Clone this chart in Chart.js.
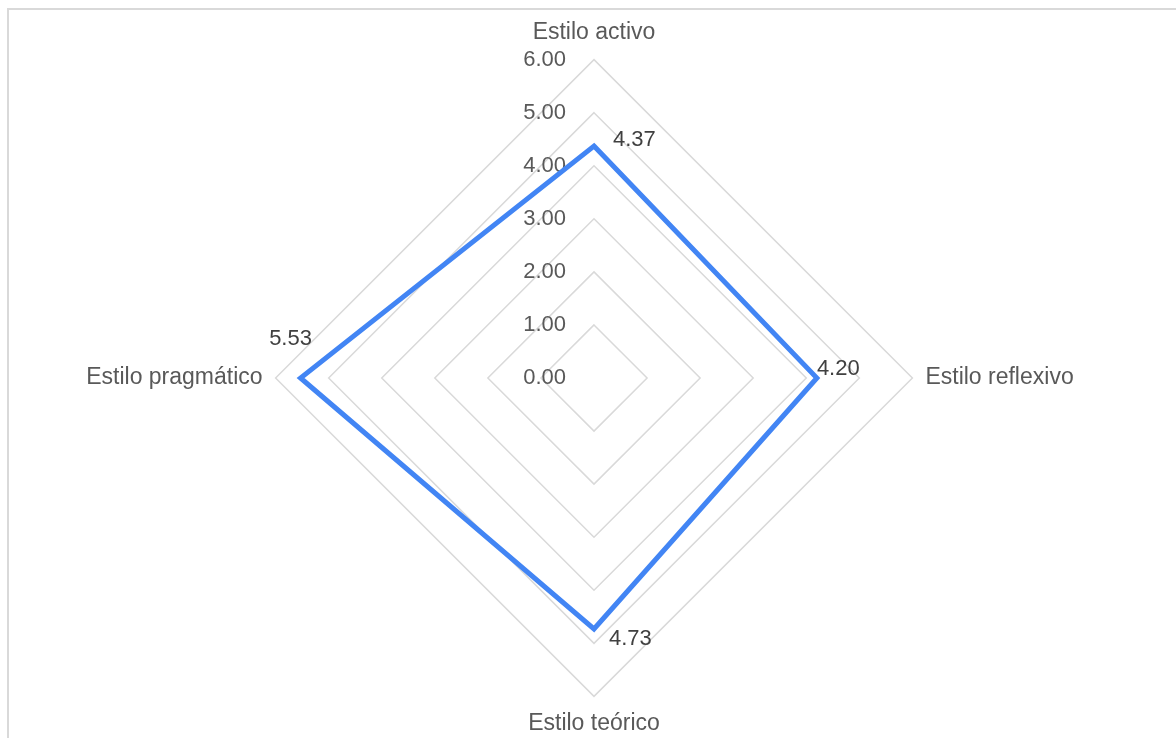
<!DOCTYPE html>
<html lang="es">

<head>
    <meta charset="UTF-8">
    <title>Estilos de aprendizaje</title>
    <script src="https://cdn.jsdelivr.net/npm/chart.js"></script>
    <style>
        html, body { margin: 0; padding: 0; background: #fff; }
        #marco {
            position: absolute; left: 7px; top: 8px; right: 0; bottom: -20px;
            border-left: 2px solid #d9d9d9; border-top: 2px solid #d9d9d9;
        }
        #grafico { position: absolute; left: 0; top: 0; }
    </style>
</head>

<body>
    <div id="marco"></div>
    <canvas id="grafico" width="1176" height="738"></canvas>

    <script>
        // Datos del gráfico
        const estilos = ['Estilo activo', 'Estilo reflexivo', 'Estilo teórico', 'Estilo pragmático'];
        const promedios = [4.37, 4.20, 4.73, 5.53];
        const escala = ['0.00', '1.00', '2.00', '3.00', '4.00', '5.00', '6.00'];

        const fuente = '"Liberation Sans", Arial, sans-serif';
        const grisTexto = '#595959';

        // desplazamiento de cada etiqueta de valor respecto a su punto
        const despEtiquetas = [[19, -6], [0, -9], [15, 10], [-10, -39]];
        const alinEtiquetas = ['left', 'left', 'left', 'center'];

        // Etiquetas del eje radial (a la izquierda del eje vertical)
        const etiquetasEje = {
            id: 'etiquetasEje',
            beforeDatasetsDraw(chart) {
                const r = chart.scales.r;
                const ctx = chart.ctx;
                ctx.save();
                ctx.font = '22px ' + fuente;
                ctx.fillStyle = grisTexto;
                ctx.textAlign = 'right';
                ctx.textBaseline = 'middle';
                r.ticks.forEach((t, i) => {
                    const d = r.getDistanceFromCenterForValue(t.value);
                    ctx.fillText(escala[i], r.xCenter - 28, r.yCenter - d);
                });
                ctx.restore();
            }
        };

        // Etiquetas de datos
        const etiquetasDatos = {
            id: 'etiquetasDatos',
            afterDatasetsDraw(chart) {
                const ctx = chart.ctx;
                const meta = chart.getDatasetMeta(0);
                ctx.save();
                ctx.font = '22px ' + fuente;
                ctx.fillStyle = '#404040';
                ctx.textBaseline = 'middle';
                meta.data.forEach((p, i) => {
                    ctx.textAlign = alinEtiquetas[i];
                    ctx.fillText(promedios[i].toFixed(2), p.x + despEtiquetas[i][0], p.y + despEtiquetas[i][1]);
                });
                ctx.restore();
            }
        };

        new Chart(document.getElementById('grafico'), {
            type: 'radar',
            data: {
                labels: estilos,
                datasets: [{
                    label: 'Promedio',
                    data: promedios,
                    borderColor: '#4285f4',
                    backgroundColor: 'rgba(0,0,0,0)',
                    borderWidth: 5,
                    borderJoinStyle: 'miter',
                    fill: false,
                    pointRadius: 0,
                    tension: 0
                }]
            },
            options: {
                responsive: false,
                animation: false,
                layout: { padding: { left: 40, right: 28, top: 19, bottom: 0 } },
                plugins: {
                    legend: { display: false },
                    tooltip: { enabled: false }
                },
                scales: {
                    r: {
                        min: 0,
                        max: 6,
                        ticks: { display: false, stepSize: 1 },
                        angleLines: { display: false },
                        grid: { color: '#d9d9d9', lineWidth: 1.5 },
                        pointLabels: {
                            padding: 13,
                            color: grisTexto,
                            font: { family: fuente, size: 23 }
                        }
                    }
                }
            },
            plugins: [etiquetasEje, etiquetasDatos]
        });
    </script>
</body>

</html>
